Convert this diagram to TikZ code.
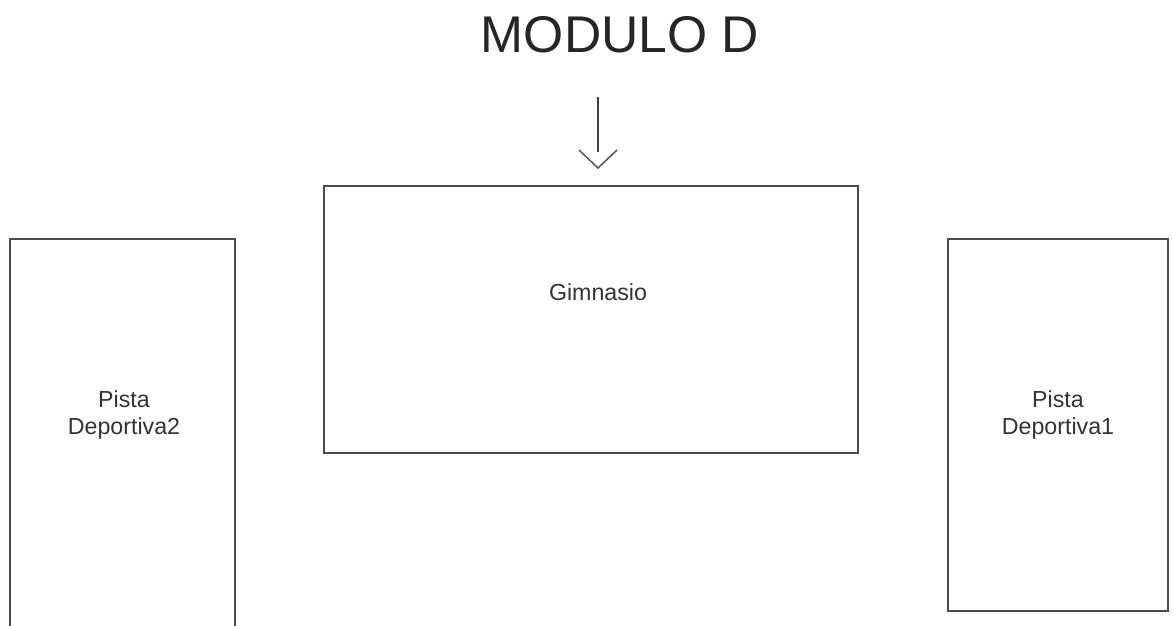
\documentclass[tikz,border=0pt]{standalone}
\usepackage{fontspec}
\setmainfont{Liberation Sans}
\usetikzlibrary{positioning}
\begin{document}
\begin{tikzpicture}[x=0.025cm,y=-0.025cm]
	\tikzset{area/.style={draw=black!70,line width=1.3pt,inner sep=0pt,minimum width=#1},
	         zone/.style={align=center,font=\fontsize{16.5}{18.5}\selectfont,text=black!80}}
	\useasboundingbox (0,0) rectangle (1173,626);
	\clip (0,0) rectangle (1173,626);
	\node [font=\fontsize{36.7}{40}\selectfont,text=black!85] (title) at (620,35) {MODULO D};
	\node [area=13.35cm,minimum height=6.675cm] (gym) at (591,319.5) {};
	\node [area=5.625cm,minimum height=10.525cm] (court2) at (122.5,449.5) {};
	\node [area=5.5cm,minimum height=9.3cm] (court1) at (1058,425) {};
	\node [zone] (gymtext) at (598,292) {Gimnasio};
	\node [zone] (court2text) at (124,415) {Pista\\Deportiva2};
	\node [zone] (court1text) at (1058,415) {Pista\\Deportiva1};
	% entrada
	\coordinate (tail) at (598,97);
	\coordinate (shaft) at (598,152);
	\coordinate (tip) at (598,168);
	\coordinate (barbl) at (579,150);
	\coordinate (barbr) at (617,150);
	\draw [black!75,line width=1.6pt] (tail) -- (shaft);
	\draw [black!65,line width=1.1pt] (barbl) -- (tip) -- (barbr);
\end{tikzpicture}
\end{document}
